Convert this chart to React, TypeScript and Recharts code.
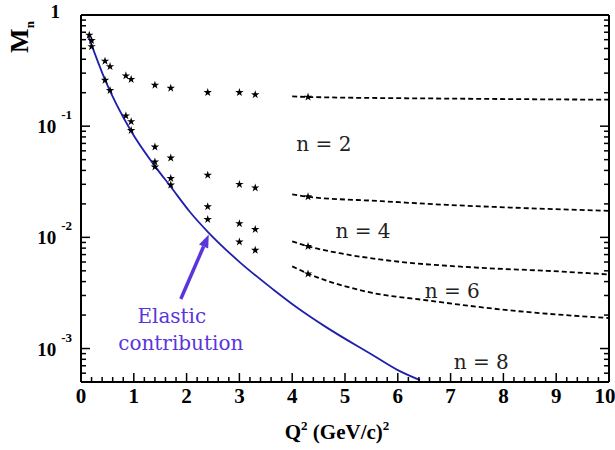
import React from "react";
import {
  ComposedChart,
  Line,
  Scatter,
  XAxis,
  YAxis,
  ZAxis,
  ReferenceDot,
  ReferenceLine,
} from "recharts";

// measured moments, Q^2 in (GeV/c)^2
const STAR_Q2 = [
  0.157, 0.2, 0.2, 0.455, 0.455, 0.55, 0.55, 0.85, 0.85, 0.95, 0.95, 0.95,
  1.4, 1.4, 1.4, 1.4, 1.7, 1.7, 1.7, 1.7, 2.4, 2.4, 2.4, 2.4,
  3.0, 3.0, 3.0, 3.0, 3.3, 3.3, 3.3, 3.3, 4.3, 4.3, 4.3, 4.3,
];
const STAR_M = [
  0.66, 0.59, 0.52, 0.385, 0.259, 0.344, 0.21, 0.284, 0.124, 0.264, 0.11, 0.0916,
  0.234, 0.065, 0.0477, 0.043, 0.22, 0.0518, 0.0339, 0.0296, 0.201, 0.0363, 0.0189, 0.0145,
  0.201, 0.03, 0.0133, 0.0091, 0.192, 0.0279, 0.0118, 0.00766, 0.183, 0.0232, 0.0083, 0.0047,
];

// elastic contribution curve
const ELASTIC_Q2 = [0.14, 0.45, 0.95, 1.4, 1.7, 2.06, 2.41, 3.01, 3.64, 4.09, 4.65, 5.53, 6.0, 6.42];
const ELASTIC_M = [0.645, 0.265, 0.09, 0.0437, 0.0285, 0.017, 0.0111, 0.00596, 0.0034, 0.00234, 0.00155, 0.00087, 0.00064, 0.00052];

// dashed extrapolations
const N2_Q2 = [4.0, 4.3, 7.0, 10.0];
const N2_M = [0.185, 0.183, 0.177, 0.173];
const N4_Q2 = [4.0, 4.3, 5.66, 6.93, 8.18, 10.0];
const N4_M = [0.0244, 0.0232, 0.0212, 0.0196, 0.0185, 0.0173];
const N6_Q2 = [4.0, 4.3, 4.9, 5.66, 7.56, 8.83, 10.0];
const N6_M = [0.0092, 0.0083, 0.0072, 0.00633, 0.00532, 0.005, 0.00464];
const N8_Q2 = [4.0, 4.3, 5.34, 6.61, 8.18, 10.0];
const N8_M = [0.00548, 0.00472, 0.0033, 0.00269, 0.00219, 0.00188];

const X_MAJOR = [0, 1, 2, 3, 4, 5, 6, 7, 8, 9, 10];
const Y_MAJOR = [0.001, 0.01, 0.1, 1];
const Y_EXP: Record<string, string> = { "0.001": "-3", "0.01": "-2", "0.1": "-1" };

const pairs = (xs: number[], ys: number[]) => xs.map((x, i) => ({ x, y: ys[i] }));

const xTicks: number[] = [];
for (let i = 0; i <= 50; i++) xTicks.push(Math.round(i * 2) / 10);
const yTicks: number[] = [];
[0.0001, 0.001, 0.01, 0.1].forEach((d) => {
  for (let k = 1; k <= 9; k++) {
    const v = +(d * k).toPrecision(3);
    if (v >= 0.0005 && v <= 1) yTicks.push(v);
  }
});
yTicks.push(1);

const FONT = "Liberation Serif";
const LABEL_FONT = "DejaVu Serif";
const BLUE = "#1f1fae";
const VIOLET = "#5a35dc";

const isMajorX = (v: number) => X_MAJOR.some((m) => Math.abs(m - v) < 1e-6);
const isMajorY = (v: number) => Y_MAJOR.some((m) => Math.abs(m - v) / m < 1e-6);

const BottomTick = (props: any) => {
  const { x, y, payload } = props;
  const major = isMajorX(payload.value);
  // last label sits at the frame edge, nudge it so it stays inside the page
  const lx = payload.value === 10 ? x - 4 : x;
  return (
    <g>
      <line x1={x} x2={x} y1={y} y2={y - (major ? 9 : 5)} stroke="#000" strokeWidth={1.5} />
      {major && (
        <text x={lx} y={y + 21} textAnchor="middle" fontFamily={FONT} fontWeight="bold" fontSize={21} fill="#000">
          {payload.value}
        </text>
      )}
    </g>
  );
};

const TopTick = (props: any) => {
  const { x, y, payload } = props;
  const major = isMajorX(payload.value);
  return <line x1={x} x2={x} y1={y} y2={y + (major ? 9 : 5)} stroke="#000" strokeWidth={1.5} />;
};

const LeftTick = (props: any) => {
  const { x, y, payload } = props;
  const v = payload.value;
  const major = isMajorY(v);
  const exp = Y_EXP[String(v)];
  return (
    <g>
      <line x1={x} x2={x + (major ? 9 : 5)} y1={y} y2={y} stroke="#000" strokeWidth={1.5} />
      {major && v === 1 && (
        <text x={x - 21} y={y + 3} textAnchor="end" fontFamily={FONT} fontWeight="bold" fontSize={19} fill="#000">
          1
        </text>
      )}
      {major && exp && (
        <text x={x - 9} y={y + 7} textAnchor="end" fontFamily={FONT} fontWeight="bold" fontSize={19} fill="#000">
          10
          <tspan dx={5} dy={-14} fontSize={13}>
            {exp}
          </tspan>
        </text>
      )}
    </g>
  );
};

const RightTick = (props: any) => {
  const { x, y, payload } = props;
  const major = isMajorY(payload.value);
  return <line x1={x} x2={x - (major ? 9 : 5)} y1={y} y2={y} stroke="#000" strokeWidth={1.5} />;
};

const XTitle = (props: any) => {
  const vb = props.viewBox;
  return (
    <text x={vb.x + vb.width / 2 - 8} y={vb.y + 57} textAnchor="middle" fontFamily={FONT} fontWeight="bold" fontSize={21} fill="#000">
      Q<tspan dy={-9} fontSize={13}>2</tspan>
      <tspan dy={9}> (GeV/c)</tspan>
      <tspan dy={-9} fontSize={13}>2</tspan>
    </text>
  );
};

const YTitle = () => (
  <text transform="translate(28, 37) rotate(-90)" x={0} y={0} textAnchor="middle" fontFamily={FONT} fontWeight="bold" fontSize={26} fill="#000">
    M<tspan dy={6} fontSize={13}>n</tspan>
  </text>
);

const Arrow = (props: any) => {
  const { x1, y1, x2, y2 } = props;
  const dx = x2 - x1;
  const dy = y2 - y1;
  const len = Math.sqrt(dx * dx + dy * dy) || 1;
  const ux = dx / len;
  const uy = dy / len;
  const bx = x2 - ux * 13;
  const by = y2 - uy * 13;
  const pts = `${x2},${y2} ${bx - uy * 5},${by + ux * 5} ${bx + uy * 5},${by - ux * 5}`;
  return (
    <g>
      <line x1={x1} y1={y1} x2={bx} y2={by} stroke={VIOLET} strokeWidth={3.5} />
      <polygon points={pts} fill={VIOLET} />
    </g>
  );
};

const textLabel = (value: string, fill = "#222") => ({
  content: (p: any) => {
    const vb = p.viewBox || {};
    const cx = (vb.x || 0) + (vb.width || 0) / 2;
    const cy = (vb.y || 0) + (vb.height || 0) / 2;
    return (
      <text x={cx} y={cy + 7} textAnchor="middle" fill={fill} fontFamily={LABEL_FONT} fontSize={20}>
        {value}
      </text>
    );
  },
});

export default function App() {
  const axisLine = { stroke: "#000", strokeWidth: 2 };
  const dashed = { stroke: "#000", strokeWidth: 1.8, strokeDasharray: "5 3", dot: false, isAnimationActive: false, type: "monotone" as const };
  return (
    <div style={{ position: "absolute", left: 0, top: 0, background: "#fff", fontFamily: FONT }}>
      <ComposedChart width={615} height={450} margin={{ top: 14, right: 5, bottom: 8, left: 6 }}>
        <XAxis
          dataKey="x"
          type="number"
          domain={[0, 10]}
          ticks={xTicks}
          interval={0}
          tickSize={0}
          tickMargin={0}
          tickLine={false}
          tick={<BottomTick />}
          axisLine={axisLine}
          height={60}
          allowDataOverflow
          label={<XTitle />}
        />
        <XAxis
          xAxisId="top"
          orientation="top"
          type="number"
          domain={[0, 10]}
          ticks={xTicks}
          interval={0}
          tickSize={0}
          tickMargin={0}
          tickLine={false}
          tick={<TopTick />}
          axisLine={axisLine}
          height={1}
          allowDataOverflow
        />
        <YAxis
          dataKey="y"
          type="number"
          scale="log"
          domain={[0.0005, 1]}
          ticks={yTicks}
          interval={0}
          tickSize={0}
          tickMargin={0}
          tickLine={false}
          tick={<LeftTick />}
          axisLine={axisLine}
          width={75}
          allowDataOverflow
          label={<YTitle />}
        />
        <YAxis
          yAxisId="right"
          orientation="right"
          type="number"
          scale="log"
          domain={[0.0005, 1]}
          ticks={yTicks}
          interval={0}
          tickSize={0}
          tickMargin={0}
          tickLine={false}
          tick={<RightTick />}
          axisLine={axisLine}
          width={1}
          allowDataOverflow
        />
        <ZAxis range={[22, 22]} />
        <Line data={pairs(ELASTIC_Q2, ELASTIC_M)} dataKey="y" type="monotone" stroke={BLUE} strokeWidth={1.8} dot={false} isAnimationActive={false} />
        <Line data={pairs(N2_Q2, N2_M)} dataKey="y" {...dashed} />
        <Line data={pairs(N4_Q2, N4_M)} dataKey="y" {...dashed} />
        <Line data={pairs(N6_Q2, N6_M)} dataKey="y" {...dashed} />
        <Line data={pairs(N8_Q2, N8_M)} dataKey="y" {...dashed} />
        <Scatter data={pairs(STAR_Q2, STAR_M)} dataKey="y" shape="star" fill="#000" isAnimationActive={false} />
        <ReferenceLine
          segment={[
            { x: 1.89, y: 0.00279 },
            { x: 2.42, y: 0.0106 },
          ]}
          shape={<Arrow />}
          ifOverflow="visible"
        />
        <ReferenceDot x={4.6} y={0.069} r={0} label={textLabel("n = 2")} />
        <ReferenceDot x={5.34} y={0.0113} r={0} label={textLabel("n = 4")} />
        <ReferenceDot x={7.03} y={0.0033} r={0} label={textLabel("n = 6")} />
        <ReferenceDot x={7.58} y={0.00075} r={0} label={textLabel("n = 8")} />
        <ReferenceDot x={1.72} y={0.00197} r={0} label={textLabel("Elastic", VIOLET)} />
        <ReferenceDot x={1.89} y={0.00113} r={0} label={textLabel("contribution", VIOLET)} />
      </ComposedChart>
    </div>
  );
}
